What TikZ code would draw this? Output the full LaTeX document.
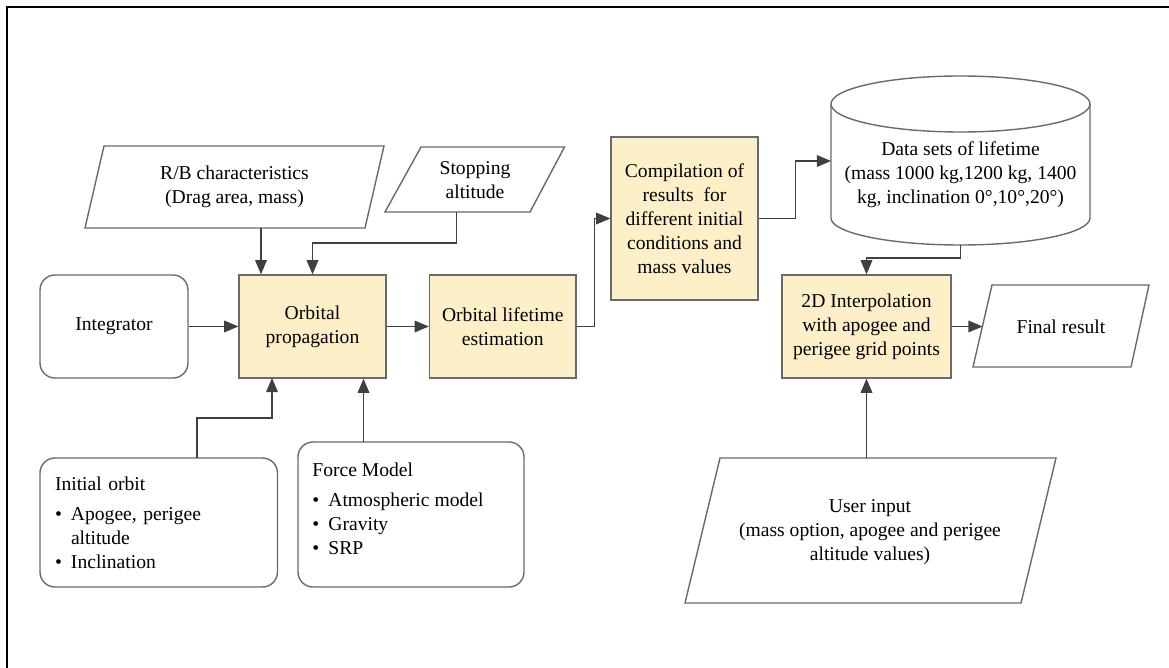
\documentclass[tikz,border=0pt]{standalone}
\usepackage{fontspec}
\setmainfont{Liberation Serif}
\usetikzlibrary{arrows}
\definecolor{boxfill}{HTML}{FDF0C9}
\definecolor{edgegray}{HTML}{6A6A6A}
\tikzset{
  proc/.style={draw=edgegray, fill=boxfill, line width=0.7pt, align=center, inner sep=0pt},
  soft/.style={draw=edgegray, rounded corners=7.5pt, line width=0.7pt, inner sep=0pt},
  io/.style={draw=edgegray, line width=0.7pt},
  txt/.style={align=center, inner sep=0pt},
  arr/.style={-triangle 45, line width=0.6pt, draw=black!75},
}
\newcommand{\bul}{\makebox[8pt][l]{\textbullet}}

\begin{document}
\begin{tikzpicture}[x=0.5pt,y=-0.5pt,font=\fontsize{9.8}{12}\selectfont]
\useasboundingbox (0,0) rectangle (1169,668);
\draw[line width=1pt] (7,668) -- (7,7.5) -- (1169,7.5);

% inputs / outputs
\draw[io] (104,146) -- (384,146) -- (365,228) -- (85,228) -- cycle;
\draw[io] (421,147) -- (564.5,147) -- (530,212) -- (385,212) -- cycle;
\draw[io] (992,285) -- (1149,285) -- (1131,367) -- (973,367) -- cycle;
\draw[io] (720,458) -- (1056,458) -- (1021,603) -- (685,603) -- cycle;
\node[txt] (rb) at (234.5,187) {R/B characteristics\\(Drag area, mass)};
\node[txt] (stop) at (475,180) {Stopping\\altitude};
\node[txt] (final) at (1061,326.5) {Final result};
\node[txt] (user) at (870,532) {User input\\(mass option, apogee and perigee\\altitude values)};

% data base
\draw[io, fill=white] (831,104) -- (831,218) arc[start angle=180, end angle=0, x radius=129.5, y radius=27] -- (1090,104);
\draw[io] (960.5,104) ellipse[x radius=129.5, y radius=28];
\node[txt] (data) at (960.5,175) {Data sets of lifetime\\(mass 1000 kg,1200 kg, 1400\\kg, inclination 0°,10°,20°)};

% blocks
\node[soft, minimum width=74pt, minimum height=51.5pt] (integ) at (114,326.5) {Integrator};
\node[proc, minimum width=73.5pt, minimum height=51.5pt] (prop) at (312.5,326.5) {Orbital\\propagation};
\node[proc, minimum width=73.25pt, minimum height=51.5pt] (life) at (502.75,326.5) {Orbital lifetime\\estimation};
\node[proc, minimum width=73.5pt, minimum height=81.5pt] (comp) at (684.5,218.5) {Compilation of\\results~ for\\different initial\\conditions and\\mass values};
\node[proc, minimum width=84.5pt, minimum height=51.5pt] (interp) at (866.5,326.5) {2D Interpolation\\with apogee and\\perigee grid points};
\node[soft, minimum width=118.75pt, minimum height=64.5pt, text width=103.75pt, align=left, inner xsep=7.5pt] (init) at (158.75,522.5) {Initial orbit\\[3pt]\bul Apogee, perigee\\\hspace*{8pt}altitude\\\bul Inclination};
\node[soft, minimum width=113pt, minimum height=72.5pt] (force) at (411,514.5) {};
\node[txt, align=left, anchor=west] (forcetxt) at (312,508.5) {Force Model\\[3pt]\bul Atmospheric model\\\bul Gravity\\\bul SRP};

\coordinate (rbout) at (261,228);
\coordinate (stopout) at (456.5,212);
\coordinate (initout) at (197,458);
\coordinate (initin) at (272,378);
\coordinate (forceout) at (363.5,442);
\coordinate (dataw) at (831,161);
\coordinate (datas) at (960.5,245);
\coordinate (finalw) at (982.5,326.5);
\coordinate (userout) at (866.5,458);

\draw[arr] (integ) -- (prop);
\draw[arr] (prop) -- (life);
\draw[arr] (rbout) -- (rbout |- prop.north);
\draw[arr] (stopout) -- ++(0,31) -| (prop.north);
\draw[arr] (initout) -- ++(0,-40) -| (initin);
\draw[arr] (forceout) -- (forceout |- prop.south);
\draw[arr] (life.east) -- ++(18,0) |- (comp.west);
\draw[arr] (comp.east) -- ++(37,0) |- (dataw);
\draw[arr] (datas) -- ++(0,13) -| (interp.north);
\draw[arr] (interp.east) -- (finalw);
\draw[arr] (userout) -- (interp.south);
\end{tikzpicture}
\end{document}
